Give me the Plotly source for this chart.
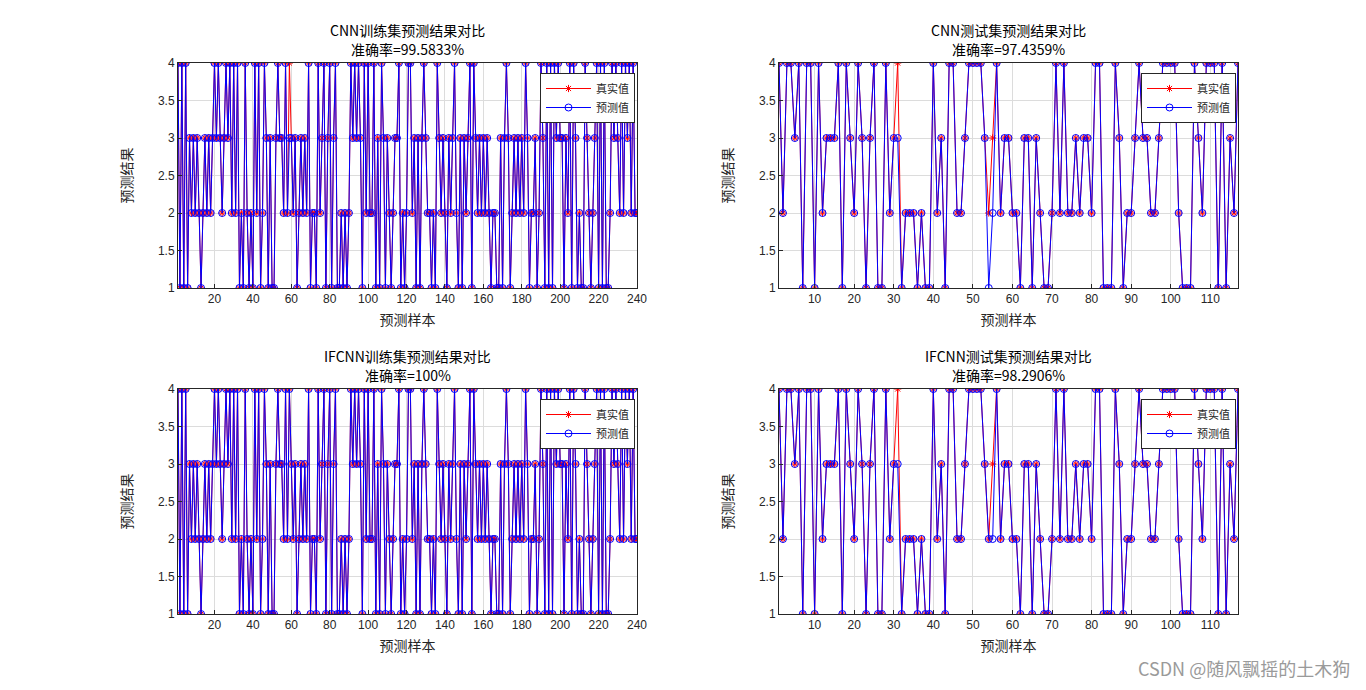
import plotly.graph_objects as go

# ---------------- data ----------------
train_x = list(range(1, 241))
train_true = (
    [4,1,4,1,4,1,3,2,3,2, 3,2,1,2,3,2,3,2,3,4, 3,4,3,2,3,4,3,4,2,4,
     2,4,1,2,1,4,2,1,2,1, 4,2,4,1,2,4,3,1,3,1, 1,3,4,3,3,2,4,2]
    + [4]
    + [3,2,3,1,2,3,2,3,2,4, 1,2,2,1,4,2,3,4,1,3, 4,1,3,4,1,1,2,1,2,1,
       2,4,3,4,3,4,3,1,4,2, 4,2,2,4,1,3,1,4,3,1, 3,2,1,2,3,3,4,1,2,1, 2,4]
    + [4,2,3,1,3,1,3,4,3,2, 2,1,2,1,4,3,2,3,2,1, 3,2,3,4,2,1,3,1,3,2,
       3,4,1,4,3,2,3,2,3,2, 3,2,1,2,2,1,1,3,1,3, 4,3,1,2,3,2,3,2]
    + [3,2,4,3,1,2,2,3,1,2, 4,3,1,4,1,4,1,4,3,4, 3,3,1,3,2,4,1,4,3,1,
       2,1,1,4,3,2,1,2,3,4, 1,4,1,4,1,1,2,4,3,4, 3,2,4,2,4,3,4,2,4,2,2]
)
cnn_train_pred = list(train_true)
cnn_train_pred[58] = 3          # sample 59 misclassified
ifcnn_train_pred = list(train_true)

test_x = list(range(1, 118))
test_true = [4,2,4,4,3,4,1,4,4,1, 4,2,3,3,3,4,1,4,3,2, 4,3,1,3,4,1,1,4,2,3,
             4,1,2,2,2,1,2,1,1,4, 2,3,1,4,4,2,2,3,4,4, 4,4,3,2,3,4,2,3,3,2,
             2,1,3,3,1,3,2,1,1,2, 4,2,4,2,2,3,2,3,3,2, 4,4,1,1,1,4,3,1,2,2,
             3,4,3,3,2,2,3,4,4,4, 4,2,1,1,1,4,3,2,4,4, 4,1,4,1,3,2,4]
cnn_test_pred = list(test_true)
cnn_test_pred[30] = 3
cnn_test_pred[53] = 1
cnn_test_pred[54] = 2
ifcnn_test_pred = list(test_true)
ifcnn_test_pred[30] = 3
ifcnn_test_pred[54] = 2

titles = ["CNN训练集预测结果对比", "CNN测试集预测结果对比",
          "IFCNN训练集预测结果对比", "IFCNN测试集预测结果对比"]
accs = ["准确率=99.5833%", "准确率=97.4359%", "准确率=100%", "准确率=98.2906%"]
train_ticks = [20, 40, 60, 80, 100, 120, 140, 160, 180, 200, 220, 240]
test_ticks = [10, 20, 30, 40, 50, 60, 70, 80, 90, 100, 110]
y_ticks = [1, 1.5, 2, 2.5, 3, 3.5, 4]
legend_names = ["真实值", "预测值"]

# ---------------- layout geometry ----------------
OFF = 8                      # page body margin
W, H = 1366 - 2 * OFF, 690 - 2 * OFF
xl = [(178 - OFF, 637 - OFF), (779 - OFF, 1238 - OFF)]
yl = [(63 - OFF, 288 - OFF), (389 - OFF, 614 - OFF)]

panels = [
    (train_x, train_true, cnn_train_pred, 0, 0, [1, 240], train_ticks),
    (test_x, test_true, cnn_test_pred, 1, 0, [1, 117], test_ticks),
    (train_x, train_true, ifcnn_train_pred, 0, 1, [1, 240], train_ticks),
    (test_x, test_true, ifcnn_test_pred, 1, 1, [1, 117], test_ticks),
]

fig = go.Figure()
CJK = "Noto Sans CJK SC"
TICKF = dict(family="Liberation Sans, Arial", size=12, color="#262626")
annotations = []
layout = dict(width=W, height=H, margin=dict(l=0, r=0, t=0, b=0, autoexpand=False),
              plot_bgcolor="white", paper_bgcolor="white", showlegend=True)

for i, (xs, yt, yp, c, r, xr, xt) in enumerate(panels):
    n = i + 1
    xa = "x" if n == 1 else f"x{n}"
    ya = "y" if n == 1 else f"y{n}"
    lg = "legend" if n == 1 else f"legend{n}"
    fig.add_trace(go.Scatter(
        x=xs, y=yt, mode="lines+markers", name=legend_names[0],
        line=dict(color="red", width=1),
        marker=dict(symbol="asterisk-open", size=6, color="red",
                    line=dict(color="red", width=1)),
        xaxis=xa, yaxis=ya, legend=lg))
    fig.add_trace(go.Scatter(
        x=xs, y=yp, mode="lines+markers", name=legend_names[1],
        line=dict(color="blue", width=1),
        marker=dict(symbol="circle-open", size=7, color="blue",
                    line=dict(color="blue", width=1)),
        xaxis=xa, yaxis=ya, legend=lg))

    x0, x1 = xl[c]
    y0, y1 = yl[r]
    xkey = "xaxis" if n == 1 else f"xaxis{n}"
    ykey = "yaxis" if n == 1 else f"yaxis{n}"
    common = dict(showline=True, linecolor="#262626", linewidth=1, mirror=True,
                  ticks="inside", ticklen=4, tickcolor="#262626",
                  showgrid=True, gridcolor="#dcdcdc", gridwidth=1,
                  zeroline=False, tickfont=TICKF, automargin=False)
    layout[xkey] = dict(domain=[x0 / W, x1 / W], anchor=ya, range=xr,
                        tickvals=xt, **common,
                        title=dict(text="预测样本", font=dict(family=CJK, size=14, color="#262626"),
                                   standoff=9))
    layout[ykey] = dict(domain=[1 - y1 / H, 1 - y0 / H], anchor=xa, range=[1, 4],
                        tickvals=y_ticks, ticktext=[str(v) for v in y_ticks], **common,
                        title=dict(text="预测结果", font=dict(family=CJK, size=14, color="#262626"),
                                   standoff=22))
    layout[lg] = dict(x=(x1 - 2) / W, y=1 - (y0 + 10) / H, xanchor="right", yanchor="top",
                      bgcolor="white", bordercolor="#262626", borderwidth=1,
                      font=dict(family=CJK, size=11, color="#262626"),
                      itemwidth=45, tracegroupgap=0)
    cx = (x0 + x1) / 2 / W
    annotations.append(dict(text=titles[i], x=cx, y=1 - (y0 - 33) / H, xref="paper", yref="paper",
                            showarrow=False, xanchor="center", yanchor="middle",
                            font=dict(family=CJK, size=14, color="black")))
    annotations.append(dict(text=accs[i], x=cx, y=1 - (y0 - 14) / H, xref="paper", yref="paper",
                            showarrow=False, xanchor="center", yanchor="middle",
                            font=dict(family=CJK, size=14, color="black")))

annotations.append(dict(text="CSDN @随风飘摇的土木狗", x=(1352 - OFF) / W, y=1 - (668 - OFF) / H,
                        xref="paper", yref="paper", showarrow=False,
                        xanchor="right", yanchor="middle",
                        font=dict(family=CJK, size=18, color="#9a9a9a")))
layout["annotations"] = annotations
fig.update_layout(**layout)
fig.write_html("out.html")
